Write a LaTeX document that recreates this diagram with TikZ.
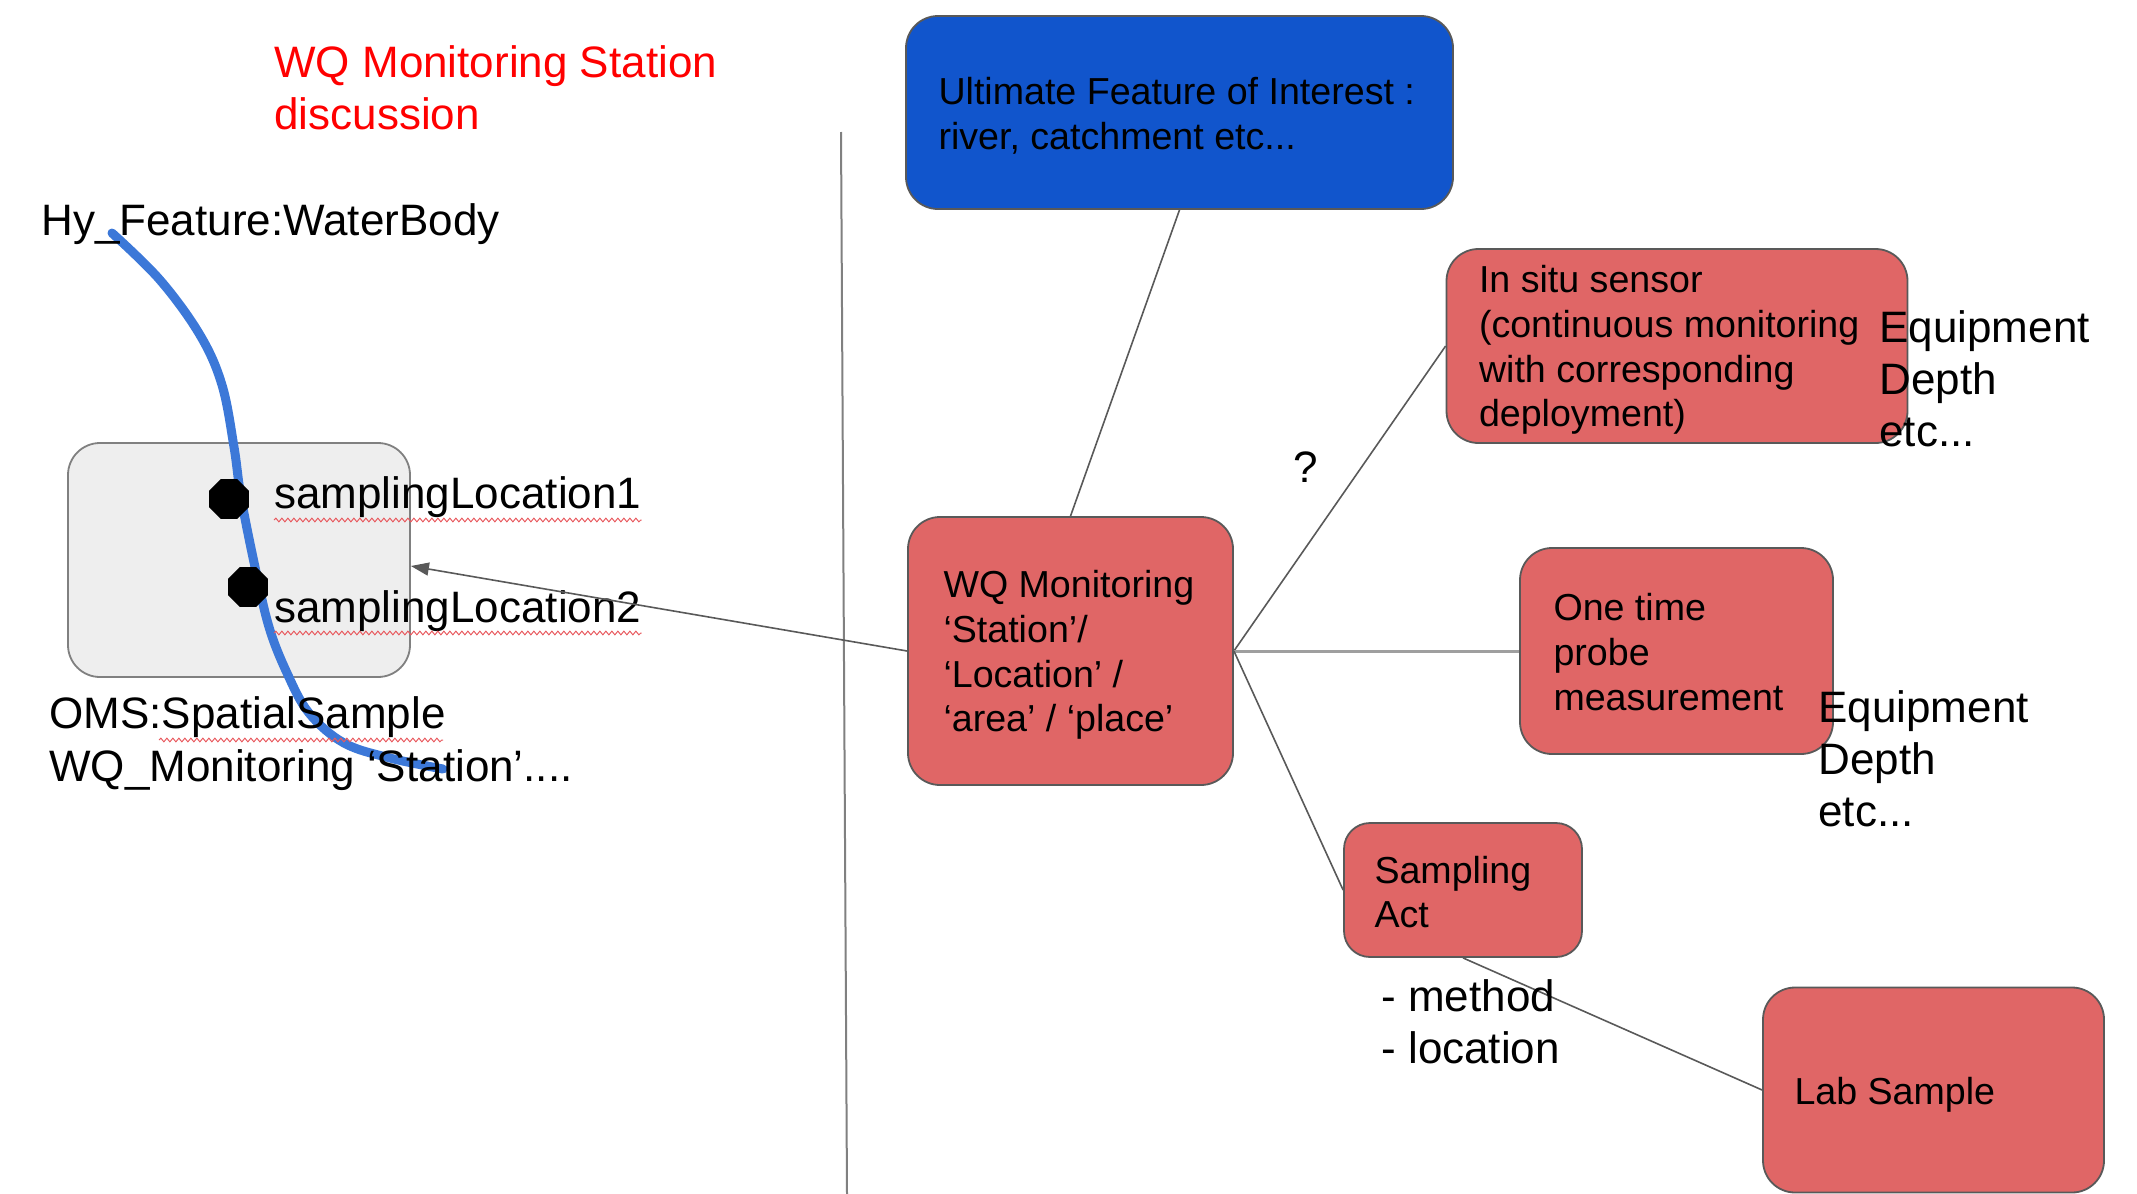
\documentclass[tikz,border=0pt]{standalone}
\usepackage{fontspec}
\setmainfont{Liberation Sans}
\usetikzlibrary{arrows.meta,shapes.geometric,decorations.pathmorphing}

\definecolor{boxred}{HTML}{E06666}
\definecolor{boxblue}{HTML}{1155CC}
\definecolor{riverblue}{HTML}{3C78D8}
\definecolor{edgegray}{HTML}{595959}
\definecolor{panelgray}{HTML}{EEEEEE}
\definecolor{paneledge}{HTML}{808080}
\definecolor{spellred}{HTML}{E8595E}

\begin{document}
\begin{tikzpicture}[x=0.5pt,y=-0.5pt,
  card/.style={draw=edgegray, line width=0.9pt, rounded corners=16pt, inner sep=0pt},
  redcard/.style={card, fill=boxred},
  bluecard/.style={card, fill=boxblue},
  cardtext/.style={anchor=west, inner sep=0pt, align=left, font=\fontsize{18.8}{22.3}\selectfont},
  note/.style={inner sep=0pt, align=left, font=\fontsize{22}{26}\selectfont},
  link/.style={draw=edgegray, line width=0.8pt},
  widelink/.style={draw=gray!75, line width=1.5pt},
  river/.style={draw=riverblue, line width=4.5pt, line cap=round},
  marker/.style={regular polygon, regular polygon sides=8, fill=black, minimum size=21.5pt, inner sep=0pt},
  spell/.style={draw=spellred, line width=0.5pt, decorate, decoration={snake, segment length=3pt, amplitude=0.9pt}},
  divider/.style={draw=gray, line width=1pt}
]
\useasboundingbox (0,0) rectangle (2137,1194);

% ---- left panel: spatial sample on the water body ----
\node[card, draw=paneledge, fill=panelgray, minimum width=171pt, minimum height=117pt] (spatial) at (239,560) {};

\draw[river] plot[smooth, tension=0.6] coordinates {(112,233) (160,280) (200,335) (222,385) (234,447) (241,497) (255,567) (269,627) (287,673) (309,713) (344,743) (390,758) (443,769)};

\node[marker] (loc1) at (229,499) {};
\node[marker] (loc2) at (248,587) {};

\node[note, anchor=west, text=red] (title) at (274,88) {WQ Monitoring Station\\discussion};
\node[note, anchor=base west] (waterbody) at (41,235) {Hy\_Feature:WaterBody};
\node[note, anchor=base west] (sl1) at (274,508) {samplingLocation1};
\node[note, anchor=base west] (sl2) at (274,622) {samplingLocation2};
\node[note, anchor=base west] (oms) at (49,728) {OMS:SpatialSample};
\node[note, anchor=base west] (wqname) at (49,781) {WQ\_Monitoring ‘Station’....};

\draw[spell] ([yshift=-6pt]sl1.base west) -- ([yshift=-6pt]sl1.base east);
\draw[spell] ([yshift=-5.5pt]sl2.base west) -- ([yshift=-5.5pt]sl2.base east);
\draw[spell] (159,740) -- (443,740);

% ---- divider ----
\coordinate (divtop) at (841,132);
\coordinate (divbot) at (847,1194);
\draw[divider] (divtop) -- (divbot);

% ---- right panel: boxes ----
\node[bluecard, minimum width=273.5pt, minimum height=96.5pt] (ufoi) at (1179.5,112.5) {};
\node[redcard, minimum width=230.5pt, minimum height=97pt] (insitu) at (1677,346) {};
\node[redcard, minimum width=162.5pt, minimum height=134pt] (station) at (1070.5,651) {};
\node[redcard, minimum width=156.5pt, minimum height=103pt] (onetime) at (1676.5,651) {};
\node[redcard, minimum width=119pt, minimum height=67pt, rounded corners=13pt] (sampact) at (1463,890) {};
\node[redcard, minimum width=170.5pt, minimum height=102.5pt] (labsample) at (1933.5,1090) {};

% ---- connectors ----
\draw[link] (ufoi.south) -- (station.north);
\draw[link] (station.east) -- (insitu.west);
\draw[widelink] (station.east) -- (onetime.west);
\draw[link] (station.east) -- (sampact.west);
\draw[link] (sampact.south) -- (labsample.west);
\draw[link, -{Triangle[length=9pt, width=6.5pt]}] (station.west) -- ([yshift=-3pt]spatial.east);

% ---- box texts ----
\node[cardtext] (ufoitext) at ([xshift=16.5pt, yshift=-1.5pt]ufoi.west) {Ultimate Feature of Interest :\\river, catchment etc...};
\node[cardtext] (insitutext) at ([xshift=16.5pt, yshift=-2pt]insitu.west) {In situ sensor\\(continuous monitoring\\with corresponding\\deployment)};
\node[cardtext] (stationtext) at ([xshift=18pt, yshift=-2pt]station.west) {WQ Monitoring\\‘Station’/\\‘Location’ /\\‘area’ / ‘place’};
\node[cardtext] (onetimetext) at ([xshift=17pt, yshift=-0.5pt]onetime.west) {One time\\probe\\measurement};
\node[cardtext] (sampacttext) at ([xshift=15.5pt, yshift=-1pt]sampact.west) {Sampling\\Act};
\node[cardtext] (labtext) at ([xshift=16pt, yshift=-2.5pt]labsample.west) {Lab Sample};

% ---- side notes ----
\node[note, anchor=base] (question) at (1306,482) {?};
\node[note, anchor=west] (equip1) at (1879,379) {Equipment\\Depth\\etc...};
\node[note, anchor=west] (equip2) at (1818,759) {Equipment\\Depth\\etc...};
\node[note, anchor=west] (actnotes) at (1381,1022) {- method\\- location};

\end{tikzpicture}
\end{document}
